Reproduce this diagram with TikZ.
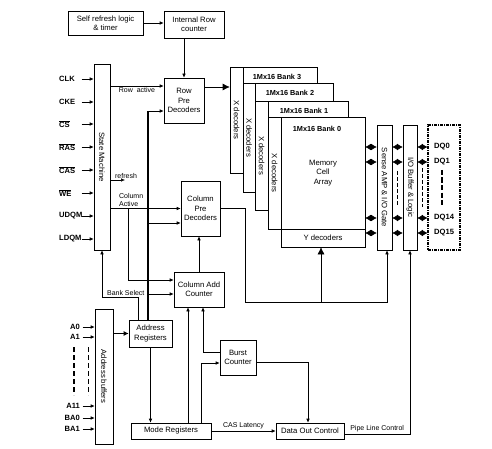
\documentclass[tikz,border=0pt]{standalone}
\usepackage{fontspec}
\setmainfont{Liberation Sans}
\usetikzlibrary{arrows.meta}

\newcommand{\boxfont}{\fontsize{7.7}{9.4}\selectfont}
\newcommand{\lblfont}{\fontsize{7}{8.2}\selectfont}
\newcommand{\sigfont}{\fontsize{7.6}{9}\selectfont\bfseries}
\newcommand{\ovl}[1]{$\overline{\mbox{#1}}$}

\tikzset{
  blk/.style={draw, fill=white, line width=0.6pt, inner sep=1pt, align=center, font=\boxfont},
  vtxt/.style={rotate=-90, font=\boxfont, inner sep=0pt},
  sig/.style={font=\sigfont, inner sep=0pt},
  ttl/.style={font=\fontsize{7.3}{9}\selectfont\bfseries, inner sep=0pt},
  lbl/.style={font=\lblfont, inner sep=1.5pt},
  arr/.style={line width=0.6pt, -{Latex[length=4pt,width=3.6pt]}},
  bigarr/.style={line width=0.6pt, -{Latex[length=7pt,width=7pt]}},
  bus/.style={line width=1.6pt},
  dbl/.style={line width=0.6pt, {Latex[length=5.5pt,width=6.5pt]}-{Latex[length=5.5pt,width=6.5pt]}},
}

\begin{document}
\begin{tikzpicture}[x=1pt, y=-1pt]
    \useasboundingbox (0,0) rectangle (492,449);

    % --- Control blocks ---
    \node[blk, minimum width=75, minimum height=24] (selfref) at (105.5,23) {Self refresh logic\\\& timer};
    \node[blk, minimum width=60, minimum height=27] (introw) at (194,24.5) {Internal Row\\counter};
    \node[blk, minimum width=40, minimum height=45] (rowdec) at (184,100.5) {Row\\Pre\\Decoders};
    \node[blk, minimum width=16, minimum height=186] (sm) at (102,157) {};
    \node[vtxt] (smtxt) at (sm) {State Machine};
    \node[blk, minimum width=39, minimum height=55] (colpre) at (200.5,208.5) {Column\\Pre\\Decoders};
    \node[blk, minimum width=50, minimum height=35] (coladd) at (199,289.5) {Column Add\\Counter};
    \node[blk, minimum width=18, minimum height=135] (addrbuf) at (104,376.5) {};
    \node[vtxt] (addrbuftxt) at (addrbuf) {Address buffers};
    \node[blk, minimum width=43, minimum height=27] (addrreg) at (150.5,333.5) {Address\\Registers};
    \node[blk, minimum width=80, minimum height=16] (modereg) at (171,431) {Mode Registers};
    \node[blk, minimum width=36, minimum height=35] (burst) at (238,357.5) {Burst\\Counter};
    \node[blk, minimum width=68, minimum height=16] (dataout) at (310,431) {Data Out Control};

    % --- Memory banks (back to front) ---
    \node[blk, minimum width=13, minimum height=106] (xdec3) at (236.5,120) {};
    \node[vtxt] at (xdec3) {X decoders};
    \node[blk, minimum width=74, minimum height=106] (arr3) at (280,120) {};
    \node[ttl] at ([xshift=-3,yshift=-10]arr3.north) {1Mx16 Bank 3};

    \node[blk, minimum width=12, minimum height=109] (xdec2) at (249,137.5) {};
    \node[vtxt] at (xdec2) {X decoders};
    \node[blk, minimum width=78, minimum height=109] (arr2) at (294,137.5) {};
    \node[ttl] at ([xshift=-4,yshift=-10]arr2.north) {1Mx16 Bank 2};

    \node[blk, minimum width=13, minimum height=109] (xdec1) at (261.5,155.5) {};
    \node[vtxt] at (xdec1) {X decoders};
    \node[blk, minimum width=80, minimum height=109] (arr1) at (308,155.5) {};
    \node[ttl] at ([xshift=-4,yshift=-10]arr1.north) {1Mx16 Bank 1};

    \node[blk, minimum width=13, minimum height=112] (xdec0) at (274.5,173) {};
    \node[vtxt] at (xdec0) {X decoders};
    \node[blk, minimum width=84, minimum height=112] (arr0) at (323,173) {Memory\\Cell\\Array};
    \node[ttl] at ([xshift=-6,yshift=-12]arr0.north) {1Mx16 Bank 0};
    \node[blk, minimum width=84, minimum height=18] (ydec) at (323,238) {Y decoders};

    % --- Data path ---
    \node[blk, minimum width=15, minimum height=125] (sense) at (384.5,187.5) {};
    \node[vtxt] at (sense) {Sense AMP \& I/O Gate};
    \node[blk, minimum width=14, minimum height=125] (iobuf) at (410,187.5) {};
    \node[vtxt] at (iobuf) {I/O Buffer \& Logic};
    \node[draw, line width=1.1pt, dash pattern=on 3pt off 1pt on 1pt off 1pt,
          minimum width=32, minimum height=125] (dqbox) at (444,187.5) {};

    \node[sig, anchor=west] (dq0) at (434,147) {DQ0};
    \node[sig, anchor=west] (dq1) at (434,162) {DQ1};
    \node[sig, anchor=west] (dq14) at (434,218) {DQ14};
    \node[sig, anchor=west] (dq15) at (434,233) {DQ15};

    \foreach \d in {dq0,dq1,dq14,dq15} {
        \draw[dbl] (arr0.east |- \d) -- (sense.west |- \d);
        \draw[dbl] (sense.east |- \d) -- (iobuf.west |- \d);
        \draw[dbl] (iobuf.east |- \d) -- (dqbox.west |- \d);
    }
    \draw[line width=1.8pt, dash pattern=on 5pt off 2.5pt] (442,170) -- (442,205);
    \draw[line width=0.9pt, dash pattern=on 4pt off 2pt] (397.5,171) -- (397.5,206);
    \draw[line width=0.9pt, dash pattern=on 4pt off 2pt] (422.5,168) -- (422.5,207);

    % --- Control inputs ---
    \node[sig, anchor=west] (clk) at (59,79) {CLK};
    \node[sig, anchor=west] (cke) at (59,102) {CKE};
    \node[sig, anchor=west] (cs) at (59,124) {\ovl{CS}};
    \node[sig, anchor=west] (ras) at (59,147) {\ovl{RAS}};
    \node[sig, anchor=west] (cas) at (59,170) {\ovl{CAS}};
    \node[sig, anchor=west] (we) at (59,193) {\ovl{WE}};
    \node[sig, anchor=west] (udqm) at (59,216) {UDQM};
    \node[sig, anchor=west] (ldqm) at (59,239) {LDQM};
    \foreach \s in {clk,cke,cs,ras,cas,we,udqm,ldqm}
        \draw[arr] ([xshift=-12]sm.west |- \s) -- (sm.west |- \s);

    % --- Address inputs ---
    \node[sig, anchor=east] (a0) at (80,327) {A0};
    \node[sig, anchor=east] (a1) at (80,337) {A1};
    \node[sig, anchor=east] (a11) at (80,406) {A11};
    \node[sig, anchor=east] (ba0) at (80,418) {BA0};
    \node[sig, anchor=east] (ba1) at (80,429) {BA1};
    \foreach \s in {a0,a1,a11,ba0,ba1}
        \draw[arr] ([xshift=-12]addrbuf.west |- \s) -- (addrbuf.west |- \s);
    \draw[line width=1.8pt, dash pattern=on 5pt off 3pt] (74,347) -- (74,395);
    \draw[line width=0.9pt, dash pattern=on 5pt off 3pt] (88,347) -- (88,395);

    % --- Coordinates ---
    \coordinate (bustop) at (148,111);
    \coordinate (colact) at (128,208.5);
    \coordinate (ydrop) at (245,302);
    \coordinate (refend) at (125,180);

    % --- Connections ---
    \draw[arr] (selfref.east) -- (selfref.east -| introw.west);
    \draw[arr] (introw.south -| rowdec.north) -- (rowdec.north);
    \draw[arr] ([yshift=14.5]rowdec.west -| sm.east) -- node[lbl, below] {Row\ \ active} ([yshift=14.5]rowdec.west);
    \draw[bigarr] ([yshift=13.5]rowdec.east) -- ([yshift=13.5]rowdec.east -| xdec3.west);
    \draw[arr] ([yshift=-23]sm.east) -- node[lbl, pos=1, above, xshift=1] {refresh} (refend);
    \draw[arr] (sm.east |- colpre.west) -- node[lbl, pos=0, anchor=south west, xshift=7, align=left] {Column\\Active} (colpre.west);
    \draw[arr] (colact) |- ([yshift=9.5]coladd.west);

    % address bus
    \draw[bus] ([xshift=-2.5]addrreg.north) -- (bustop);
    \draw[arr] (bustop) -- (bustop -| rowdec.west);
    \draw[arr] ([yshift=-14.5]colpre.west -| bustop) -- ([yshift=-14.5]colpre.west);
    \draw[arr] ([yshift=-4.5]coladd.west -| bustop) -- ([yshift=-4.5]coladd.west);
    \draw[bus, -{Latex[length=5pt,width=5pt]}] (addrbuf.east |- addrreg) -- (addrreg.west);
    \draw[arr] ([xshift=-12.5]addrreg.north) -- ++(0,-22) -| node[lbl, pos=0.17, above] {Bank Select} (sm.south);

    \draw[arr] (coladd.north) -- (coladd.north |- colpre.south);
    \draw[arr] (addrreg.south) -- (addrreg.south |- modereg.north);
    \draw[arr] ([xshift=-11]coladd.south |- modereg.north) -- ([xshift=-11]coladd.south);
    \draw[arr] ([xshift=30]modereg.north) |- ([yshift=-5.5]burst.west);
    \draw[arr] ([yshift=5.5]burst.west) -| ([xshift=4]coladd.south);
    \draw[arr] ([yshift=-4.5]burst.east) -| ([xshift=-2]dataout.north);
    \draw[arr] (modereg.east) -- node[lbl, above] {CAS Latency} (modereg.east -| dataout.west);
    \draw[arr] ([yshift=-3]dataout.east) -| node[lbl, pos=0.25, above] {Pipe Line Control} (iobuf.south);

    % column decode to Y decoders and sense amps
    \draw[arr] (colpre.east) -| (ydrop) -| ([xshift=2.5]sense.south);
    \draw[bigarr] ([xshift=-2]ydec.south |- ydrop) -- ([xshift=-2]ydec.south);

\end{tikzpicture}
\end{document}
